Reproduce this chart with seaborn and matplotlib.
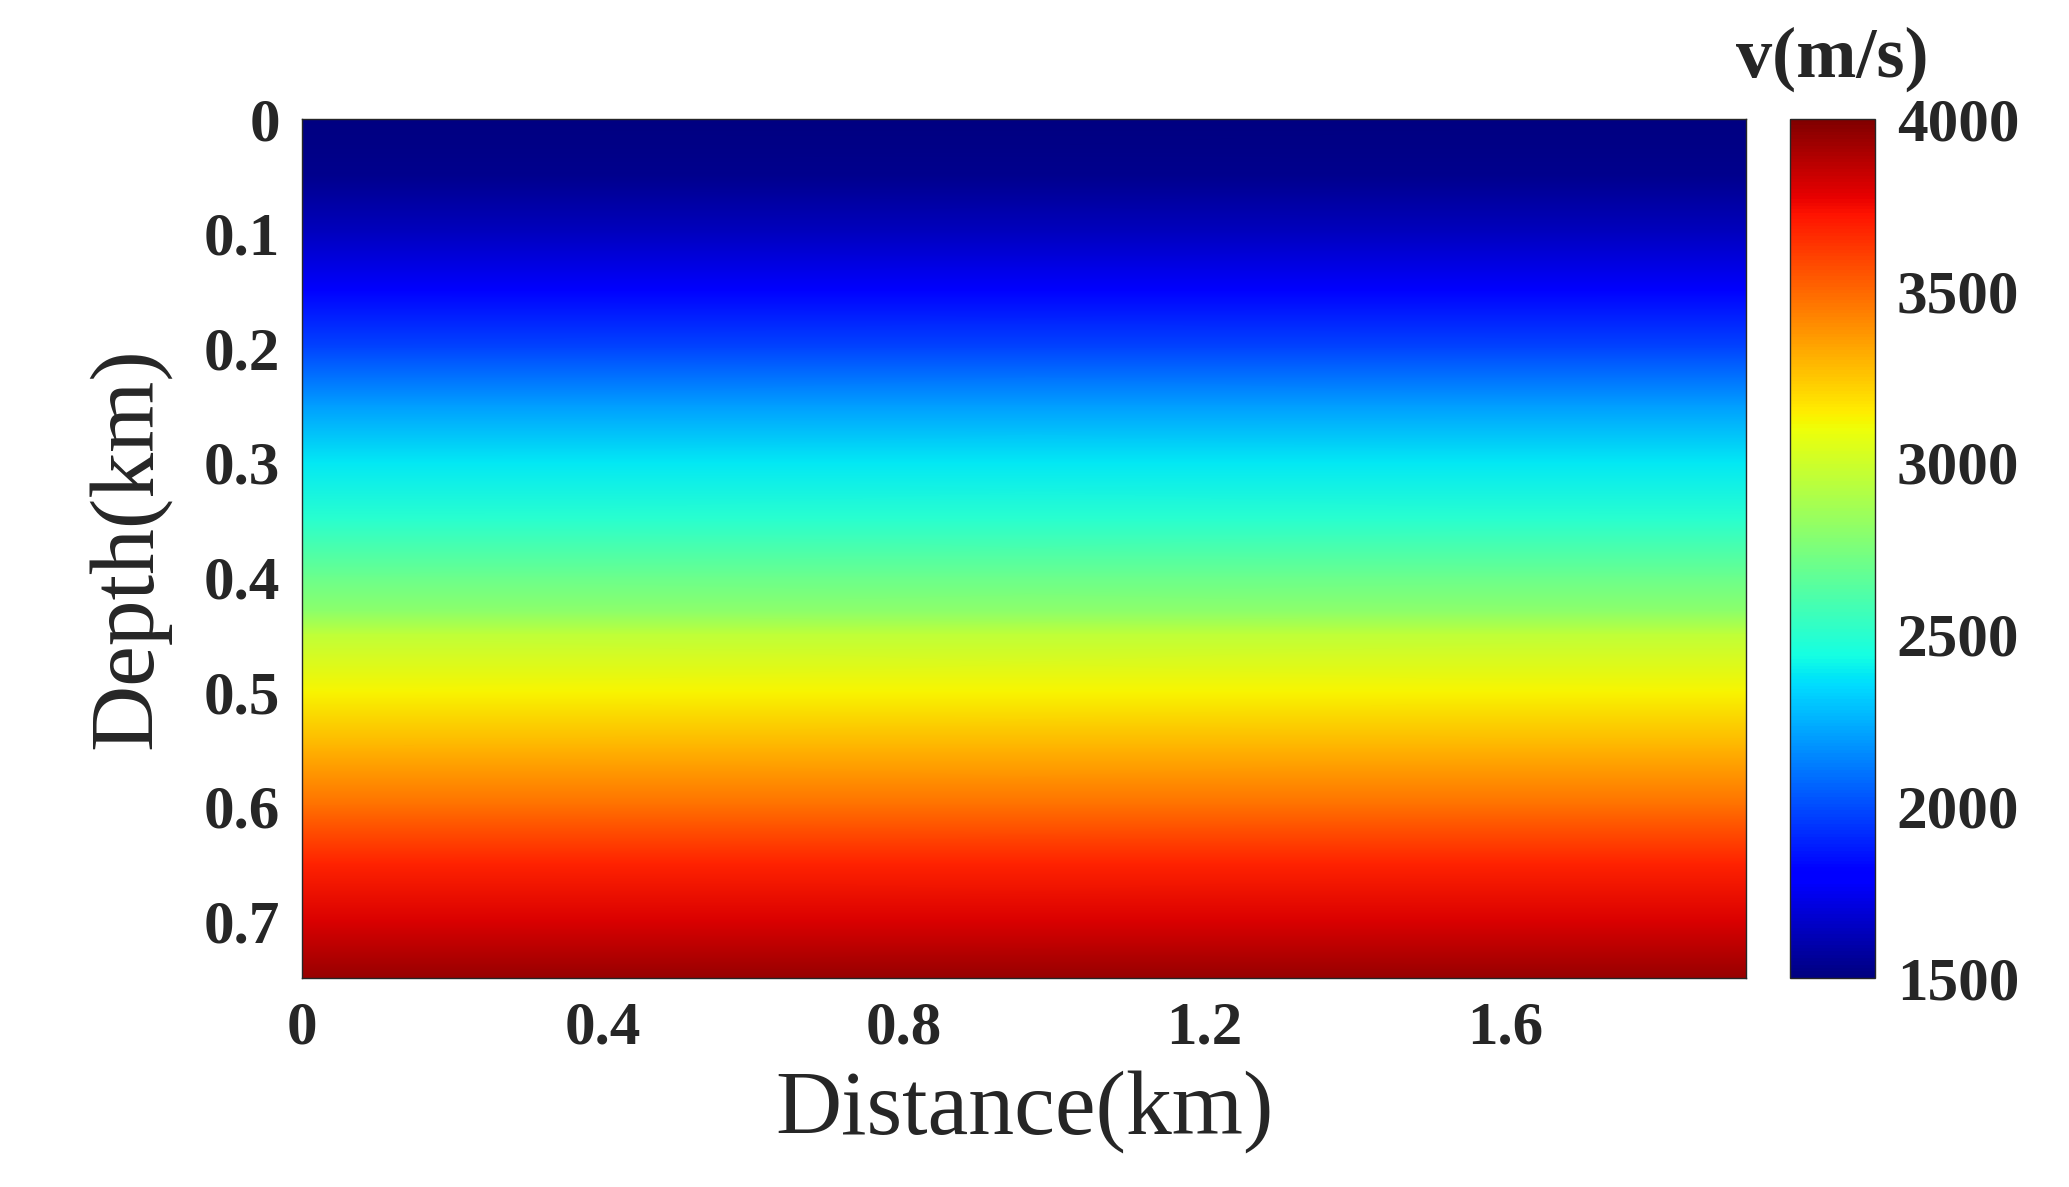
import numpy as np
import matplotlib
matplotlib.use("Agg")
import matplotlib.pyplot as plt
import seaborn as sns

# velocity profile (depth in km -> v in m/s)
depth_nodes = [0.0, 0.05, 0.10, 0.15, 0.20, 0.25, 0.30, 0.35, 0.40, 0.43, 0.45, 0.50, 0.55, 0.60, 0.65, 0.70, 0.75]
velocity = [1500, 1530, 1640, 1800, 1980, 2200, 2380, 2500, 2700, 2800, 2950, 3130, 3300, 3480, 3680, 3800, 3950]
x_ticks = [0, 0.4, 0.8, 1.2, 1.6]
y_ticks = [0, 0.1, 0.2, 0.3, 0.4, 0.5, 0.6, 0.7]
cbar_ticks = [1500, 2000, 2500, 3000, 3500, 4000]
x_max = 1.92
y_max = 0.75

sns.set_style("white")
plt.rcParams["font.family"] = ["Liberation Serif", "DejaVu Serif"]

fig = plt.figure(figsize=(20.69, 11.87), dpi=100)
ax = fig.add_axes([0.146, 0.176, 0.698, 0.724])
cax = fig.add_axes([0.865, 0.176, 0.041, 0.724])

grid = np.column_stack([velocity, velocity])
mesh = ax.pcolormesh([0, x_max], depth_nodes, grid, cmap="jet",
                     vmin=1500, vmax=4000, shading="gouraud")
ax.set_xlim(0, x_max)
ax.set_ylim(y_max, 0)
ax.set_xticks(x_ticks)
ax.set_xticklabels(["0", "0.4", "0.8", "1.2", "1.6"])
ax.set_yticks(y_ticks)
ax.set_yticklabels(["0", "0.1", "0.2", "0.3", "0.4", "0.5", "0.6", "0.7"])
ax.tick_params(labelsize=44, length=0, pad=16)
for lab in ax.get_xticklabels() + ax.get_yticklabels():
    lab.set_fontweight("semibold")
ax.set_xlabel("Distance(km)", fontsize=66, labelpad=10)
ax.set_ylabel("Depth(km)", fontsize=66, labelpad=24)
for s in ax.spines.values():
    s.set_linewidth(1)

cb = fig.colorbar(mesh, cax=cax, ticks=cbar_ticks)
cb.ax.tick_params(labelsize=44, length=0, pad=16)
for lab in cb.ax.get_yticklabels():
    lab.set_fontweight("semibold")
cb.outline.set_linewidth(1)
cax.set_title("v(m/s)", fontsize=52, fontweight="bold", pad=30)

fig.savefig("out.png", dpi=100)
